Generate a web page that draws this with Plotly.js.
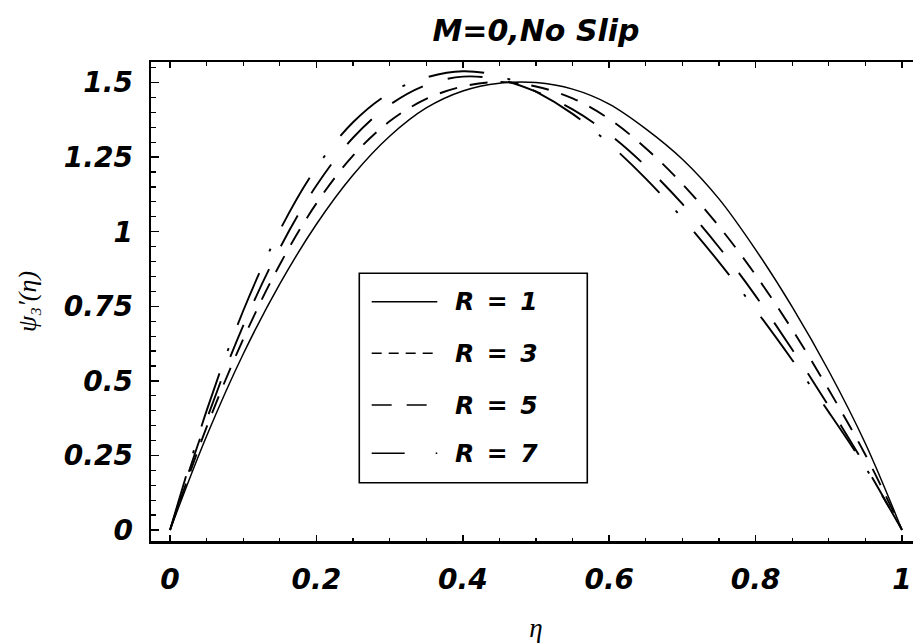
<!DOCTYPE html>
<html>
<head>
<meta charset="utf-8">
<script src="https://cdn.plot.ly/plotly-3.0.1.min.js"></script>
<style>
  html, body { margin: 0; padding: 0; overflow: hidden; background: #fff; }
  #chart { width: 930px; height: 643px; }
</style>
</head>
<body>
<div id="chart"></div>
<script>
// Axial velocity profiles psi_3'(eta) across the channel, M = 0, no slip
const eta = [0, 0.05, 0.1, 0.15, 0.2, 0.25, 0.3, 0.35, 0.4, 0.45, 0.5,
             0.55, 0.6, 0.65, 0.7, 0.75, 0.8, 0.85, 0.9, 0.95, 1];

const psiR1 = [0, 0.315, 0.59, 0.825, 1.025, 1.19, 1.32, 1.415, 1.472, 1.498, 1.50,
               1.478, 1.428, 1.345, 1.243, 1.11, 0.94, 0.748, 0.533, 0.29, 0];
const psiR3 = [0, 0.345, 0.64, 0.89, 1.095, 1.255, 1.37, 1.445, 1.487, 1.502, 1.487,
               1.447, 1.378, 1.28, 1.16, 1.018, 0.855, 0.672, 0.47, 0.252, 0];
const psiR5 = [0, 0.37, 0.685, 0.945, 1.155, 1.315, 1.425, 1.492, 1.52, 1.51, 1.47,
               1.41, 1.327, 1.22, 1.093, 0.948, 0.785, 0.605, 0.415, 0.215, 0];
const psiR7 = [0, 0.40, 0.735, 1.005, 1.215, 1.367, 1.465, 1.517, 1.538, 1.522, 1.47,
               1.395, 1.295, 1.178, 1.045, 0.898, 0.738, 0.57, 0.395, 0.21, 0];

const seriesLabels = ['1', '3', '5', '7'];
const seriesValues = [psiR1, psiR3, psiR5, psiR7];

const xTickVals = [0, 0.2, 0.4, 0.6, 0.8, 1];
const xTickText = ['0', '0.2', '0.4', '0.6', '0.8', '1'];
const yTickVals = [0, 0.25, 0.5, 0.75, 1, 1.25, 1.5];
const yTickText = ['0', '0.25', '0.5', '0.75', '1', '1.25', '1.5'];

// line styles: curve dashes and the shorter dashes used in the key
const curveDash = ['solid', '18px,13px', '35px,26px', '56px,24px,3px,25px'];
const curveWidth = [1.5, 1.9, 1.9, 1.9];
const keyDash = ['solid', '10px,7px', '20px,15px', '33px,31px,2px,40px'];

const traces = seriesValues.map((vals, i) => ({
  x: eta,
  y: vals,
  type: 'scatter',
  mode: 'lines',
  name: 'R = ' + seriesLabels[i],
  line: { color: '#000', width: curveWidth[i], dash: curveDash[i], shape: 'spline', smoothing: 1 },
  hoverinfo: 'skip'
}));

const tickFont = { family: 'DejaVu Sans', size: 28, color: '#000', weight: 'bold', style: 'italic' };

// key box drawn in plot-area fractions
const key = { x0: 0.2705, x1: 0.5666, y0: 0.1217, y1: 0.5589,
              lx0: 0.2866, lx1: 0.3718, tx: 0.3922,
              rows: [0.4996, 0.3919, 0.2839, 0.1831] };

const shapes = [
  { type: 'rect', xref: 'paper', yref: 'paper', x0: key.x0, x1: key.x1, y0: key.y0, y1: key.y1,
    line: { color: '#000', width: 1.6 }, fillcolor: 'rgba(255,255,255,0)' }
];
const annotations = [];
seriesLabels.forEach((lab, i) => {
  shapes.push({ type: 'line', xref: 'paper', yref: 'paper',
    x0: key.lx0, x1: key.lx1, y0: key.rows[i], y1: key.rows[i],
    line: { color: '#000', width: 1.5, dash: keyDash[i] } });
  annotations.push({ xref: 'paper', yref: 'paper', x: key.tx, y: key.rows[i],
    xanchor: 'left', yanchor: 'middle', showarrow: false,
    text: 'R\u2002=\u2002' + lab,
    font: { family: 'DejaVu Sans', size: 25, color: '#000', weight: 'bold', style: 'italic' } });
});

const layout = {
  width: 930,
  height: 643,
  margin: { l: 151, r: 9, t: 62, b: 102 },
  paper_bgcolor: '#fff',
  plot_bgcolor: '#fff',
  showlegend: false,
  title: {
    text: 'M=0,No Slip',
    font: { family: 'DejaVu Sans', size: 30, color: '#000', weight: 'bold', style: 'italic' },
    x: 0.5, xref: 'paper', xanchor: 'center',
    y: 1 - 30 / 643, yref: 'container', yanchor: 'middle'
  },
  xaxis: {
    range: [-0.026, 1.026],
    tickmode: 'array', tickvals: xTickVals, ticktext: xTickText,
    ticks: 'inside', ticklen: 6, tickwidth: 1.5, tickcolor: '#000',
    minor: { dtick: 0.05, tick0: 0, ticks: 'inside', ticklen: 3.5, tickwidth: 1.2, tickcolor: '#000' },
    showline: true, linewidth: 2.5, linecolor: '#000', mirror: 'ticks',
    showgrid: false, zeroline: false,
    tickfont: tickFont, ticklabelstandoff: 12,
    title: { text: 'η', standoff: 24,
      font: { family: 'Liberation Serif', size: 27, color: '#000', style: 'italic' } }
  },
  yaxis: {
    range: [-0.037, 1.569],
    tickmode: 'array', tickvals: yTickVals, ticktext: yTickText,
    ticks: 'inside', ticklen: 8, tickwidth: 1.5, tickcolor: '#000',
    minor: { dtick: 0.05, tick0: 0, ticks: 'inside', ticklen: 5, tickwidth: 1.2, tickcolor: '#000' },
    showline: true, linewidth: 2.5, linecolor: '#000', mirror: 'ticks',
    showgrid: false, zeroline: false,
    tickfont: tickFont, ticklabelstandoff: 10,
    title: { text: 'ψ₃′(η)', standoff: 20,
      font: { family: 'Liberation Serif', size: 26, color: '#000', style: 'italic' } }
  },
  shapes: shapes,
  annotations: annotations
};

Plotly.newPlot('chart', traces, layout, { staticPlot: true, displayModeBar: false });
</script>
</body>
</html>
